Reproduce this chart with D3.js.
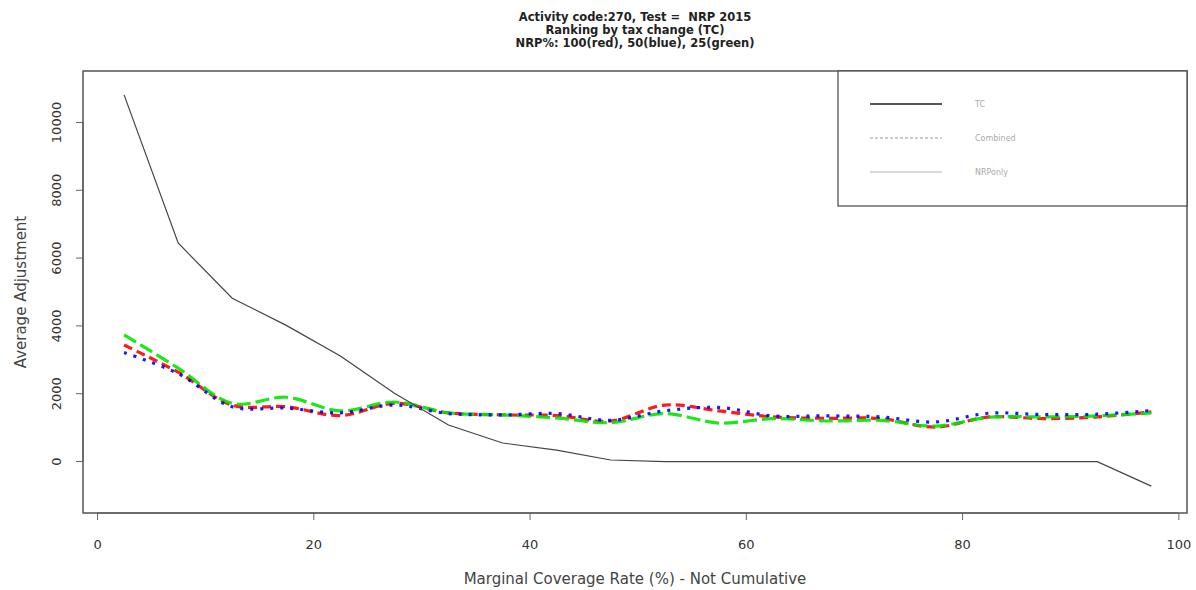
<!DOCTYPE html>
<html>
<head>
<meta charset="utf-8">
<script src="https://cdn.jsdelivr.net/npm/d3@7"></script>
<style>
  body { margin: 0; background: #fff; }
  svg { display: block; font-family: "DejaVu Sans", sans-serif; }
</style>
</head>
<body>
<div id="chart"></div>
<script>
// Marginal coverage bins (%), 5% steps
const bins = [2.5, 7.5, 12.5, 17.5, 22.5, 27.5, 32.5, 37.5, 42.5, 47.5,
              52.5, 57.5, 62.5, 67.5, 72.5, 77.5, 82.5, 87.5, 92.5, 97.5];

// Average adjustment per bin
const tc    = [10800, 6430, 4800, 4000, 3100, 2000, 1060, 530, 320, 30,
               -20, -20, -20, -20, -20, -20, -20, -20, -20, -740];
const red   = [3420, 2620, 1650, 1600, 1340, 1700, 1420, 1360, 1340, 1180,
               1650, 1480, 1300, 1260, 1250, 1000, 1300, 1250, 1300, 1450];
const blue  = [3200, 2580, 1600, 1560, 1420, 1650, 1400, 1360, 1400, 1200,
               1480, 1580, 1330, 1330, 1300, 1150, 1410, 1370, 1380, 1490];
const green = [3720, 2740, 1700, 1880, 1480, 1740, 1420, 1360, 1270, 1130,
               1400, 1120, 1250, 1180, 1200, 1030, 1290, 1300, 1330, 1420];

const xTicks = [0, 20, 40, 60, 80, 100];
const yTicks = [0, 2000, 4000, 6000, 8000, 10000];
const legendLabels = ['TC', 'Combined', 'NRPonly'];
const titleLines = ['Activity code:270, Test =  NRP 2015',
                    'Ranking by tax change (TC)',
                    'NRP%: 100(red), 50(blue), 25(green)'];

const W = 1196, H = 590;
const box = { left: 83, right: 1187, top: 71, bottom: 513 };

const svg = d3.select('#chart').append('svg')
  .attr('width', W).attr('height', H);

const x = d3.scaleLinear().domain([-1.3, 100.8]).range([box.left, box.right]);
const y = d3.scaleLinear().domain([-1534, 11504]).range([box.bottom, box.top]);

// Title
svg.append('g').selectAll('text')
  .data(titleLines)
  .join('text')
  .attr('x', (box.left + box.right) / 2)
  .attr('y', (_, i) => 21 + i * 13)
  .attr('text-anchor', 'middle')
  .attr('font-size', '11.5px')
  .attr('font-weight', 'bold')
  .attr('fill', '#222')
  .style('white-space', 'pre')
  .text(d => d);

// Axes (R style: ticks outside, no domain line beyond the box)
const xAxis = svg.append('g')
  .attr('transform', `translate(0,${box.bottom})`)
  .call(d3.axisBottom(x).tickValues(xTicks).tickSize(7).tickPadding(20).tickFormat(d3.format('d')));
xAxis.select('.domain').attr('d', `M${x(0)},0H${x(100)}`).attr('stroke', '#666');
xAxis.selectAll('.tick line').attr('stroke', '#666');
xAxis.selectAll('.tick text').attr('font-size', '13px').attr('fill', '#333')
  .attr('font-family', '"DejaVu Sans", sans-serif');

const yAxis = svg.append('g')
  .attr('transform', `translate(${box.left},0)`)
  .call(d3.axisLeft(y).tickValues(yTicks).tickSize(7).tickFormat(d3.format('d')));
yAxis.select('.domain').attr('d', `M0,${y(0)}V${y(10000)}`).attr('stroke', '#666');
yAxis.selectAll('.tick line').attr('stroke', '#666');
yAxis.selectAll('.tick text')
  .attr('font-size', '13px').attr('fill', '#333')
  .attr('font-family', '"DejaVu Sans", sans-serif')
  .attr('text-anchor', 'middle')
  .attr('x', 0).attr('dy', 0)
  .attr('transform', 'translate(-22,0) rotate(-90)');

// Plot box
svg.append('rect')
  .attr('x', box.left).attr('y', box.top)
  .attr('width', box.right - box.left).attr('height', box.bottom - box.top)
  .attr('fill', 'none').attr('stroke', '#555').attr('stroke-width', 1.5);

// Axis titles
svg.append('text')
  .attr('x', (box.left + box.right) / 2).attr('y', 584)
  .attr('text-anchor', 'middle').attr('font-size', '15px').attr('fill', '#444')
  .text('Marginal Coverage Rate (%) - Not Cumulative');
svg.append('text')
  .attr('transform', `translate(26,${(box.top + box.bottom) / 2}) rotate(-90)`)
  .attr('text-anchor', 'middle').attr('font-size', '15px').attr('fill', '#444')
  .text('Average Adjustment');

// Lines
const straight = d3.line().x(d => x(d[0])).y(d => y(d[1]));
const smooth = d3.line().x(d => x(d[0])).y(d => y(d[1])).curve(d3.curveCatmullRom.alpha(0.5));

const series = [
  { vals: red,   color: '#ff0000', dash: '9,5' },
  { vals: green, color: '#00e600', dash: '14,5' },
  { vals: blue,  color: '#0000ff', dash: '3,7' }
];

svg.append('g').selectAll('path')
  .data(series)
  .join('path')
  .attr('d', s => smooth(d3.zip(bins, s.vals)))
  .attr('fill', 'none')
  .attr('stroke', s => s.color)
  .attr('stroke-width', 3.2)
  .attr('stroke-dasharray', s => s.dash)
  .attr('opacity', 0.9);

svg.append('path')
  .attr('d', straight(d3.zip(bins, tc)))
  .attr('fill', 'none')
  .attr('stroke', '#444')
  .attr('stroke-width', 1.2);

// Legend
const lg = svg.append('g');
lg.append('rect')
  .attr('x', 838).attr('y', box.top)
  .attr('width', box.right - 838).attr('height', 206 - box.top)
  .attr('fill', '#fff').attr('stroke', '#444').attr('stroke-width', 1.2);
const legendStyle = [
  { stroke: '#555', width: 2, dash: null },
  { stroke: '#bbb', width: 1.5, dash: '3,2' },
  { stroke: '#ccc', width: 1.5, dash: null }
];
const rows = lg.selectAll('g.row')
  .data(legendLabels)
  .join('g')
  .attr('class', 'row')
  .attr('transform', (_, i) => `translate(0,${104 + i * 34})`);
rows.append('line')
  .attr('x1', 870).attr('x2', 942)
  .attr('stroke', (_, i) => legendStyle[i].stroke)
  .attr('stroke-width', (_, i) => legendStyle[i].width)
  .attr('stroke-dasharray', (_, i) => legendStyle[i].dash);
rows.append('text')
  .attr('x', 975).attr('dy', '0.35em')
  .attr('font-size', '8px').attr('fill', '#aaa')
  .text(d => d);
</script>
</body>
</html>
